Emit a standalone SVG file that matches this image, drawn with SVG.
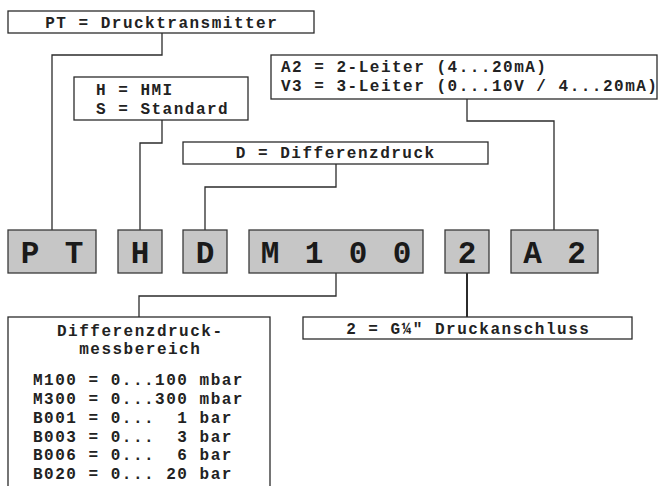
<svg xmlns="http://www.w3.org/2000/svg" width="660" height="486" viewBox="0 0 660 486">
<style>
.box{fill:#fff;stroke:#2b2b2b;stroke-width:1.3}
.code{fill:#c6c6c6;stroke:#3a3a3a;stroke-width:1.3}
.t{font-family:"Liberation Mono","DejaVu Sans Mono",monospace;font-weight:bold;font-size:16px;letter-spacing:1.5px;fill:#222}
.big{font-family:"Liberation Mono","DejaVu Sans Mono",monospace;font-weight:bold;font-size:31px;letter-spacing:3.4px;fill:#1a1a1a}
.c{text-anchor:middle}
.ln{fill:none;stroke:#2b2b2b;stroke-width:1.3}
</style>
<rect width="660" height="486" fill="#fff"/>
<g id="connectors">
<polyline class="ln" points="162,33 162,55 52,55 52,230"/>
<polyline class="ln" points="162,120 162,143 140,143 140,230"/>
<polyline class="ln" points="336,164 336,187 205,187 205,230"/>
<polyline class="ln" points="467,99 467,121 554,121 554,230"/>
<polyline class="ln" points="336,273 336,296 139,296 139,317"/>
<polyline class="ln" style="stroke-width:2" points="467,273 467,317"/>
</g>
<g id="pt-desc"><rect class="box" x="8" y="11" width="306" height="22"/><text class="t c" x="161.75" y="28">PT = Drucktransmitter</text></g>
<g id="hs-desc"><rect class="box" x="74" y="77" width="174" height="43"/><text class="t" x="96" y="95">H = HMI</text><text class="t" x="96" y="114">S = Standard</text></g>
<g id="d-desc"><rect class="box" x="183" y="142" width="305" height="22"/><text class="t c" x="335.75" y="158">D = Differenzdruck</text></g>
<g id="a2-desc"><rect class="box" x="271" y="55" width="386" height="44"/><text class="t" x="281" y="72">A2 = 2-Leiter (4...20mA)</text><text class="t" x="281" y="91">V3 = 3-Leiter (0...10V / 4...20mA)</text></g>
<g id="code-pt"><rect class="code" x="8" y="230" width="88" height="43"/><text class="big c" x="53.7" y="263">P T</text></g>
<g id="code-h"><rect class="code" x="118" y="230" width="44" height="43"/><text class="big c" x="141.7" y="263">H</text></g>
<g id="code-d"><rect class="code" x="183" y="230" width="44" height="43"/><text class="big c" x="206.7" y="263">D</text></g>
<g id="code-m100"><rect class="code" x="249" y="230" width="174" height="43"/><text class="big c" x="337.7" y="263">M 1 0 0</text></g>
<g id="code-2"><rect class="code" x="445" y="230" width="44" height="43"/><text class="big c" x="468.7" y="263">2</text></g>
<g id="code-a2"><rect class="code" x="511" y="230" width="87" height="43"/><text class="big c" x="556.2" y="263">A 2</text></g>
<g id="range-desc"><rect class="box" x="8" y="317" width="262" height="180"/>
<text class="t c" x="140.25" y="336">Differenzdruck-</text>
<text class="t c" x="140.25" y="354">messbereich</text>
<text class="t" x="33" y="385" xml:space="preserve">M100 = 0...100 mbar</text>
<text class="t" x="33" y="404" xml:space="preserve">M300 = 0...300 mbar</text>
<text class="t" x="33" y="423" xml:space="preserve">B001 = 0...  1 bar</text>
<text class="t" x="33" y="442" xml:space="preserve">B003 = 0...  3 bar</text>
<text class="t" x="33" y="460" xml:space="preserve">B006 = 0...  6 bar</text>
<text class="t" x="33" y="479" xml:space="preserve">B020 = 0... 20 bar</text>
</g>
<g id="conn-desc"><rect class="box" x="303" y="317" width="329" height="22"/><text class="t c" x="468.25" y="334">2 = G¼″ Druckanschluss</text></g>
</svg>
